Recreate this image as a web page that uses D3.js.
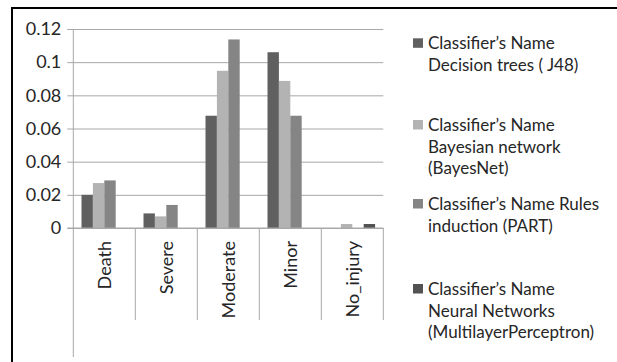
<!DOCTYPE html>
<html>
<head>
<meta charset="utf-8">
<script src="https://cdn.jsdelivr.net/npm/d3@7"></script>
<style>
  html, body { margin: 0; padding: 0; background: #fff; }
  svg { display: block; }
  text { font-family: Lato, "Open Sans", sans-serif; fill: #262626; }
</style>
</head>
<body>
<svg id="chart" width="617" height="362"></svg>
<script>
// Injury severity classes
const categories = ["Death", "Severe", "Moderate", "Minor", "No_injury"];

// Per-classifier values for each class
const j48Values       = [0.020, 0.0088, 0.0677, 0.106, 0];
const bayesNetValues  = [0.0271, 0.0070, 0.0948, 0.0887, 0.0024];
const partValues      = [0.0287, 0.0139, 0.1137, 0.0677, 0];
const mlpValues       = [0, 0, 0, 0, 0.0024];

// Legend text, one array of lines per classifier
const legendLines = [
  ["Classifier\u2019s Name", "Decision trees ( J48)"],
  ["Classifier\u2019s Name", "Bayesian network", "(BayesNet)"],
  ["Classifier\u2019s Name Rules", "induction (PART)"],
  ["Classifier\u2019s Name", "Neural Networks", "(MultilayerPerceptron)"]
];

const yTicks = [0, 0.02, 0.04, 0.06, 0.08, 0.1, 0.12];

const seriesValues = [j48Values, bayesNetValues, partValues, mlpValues];
const seriesColors = ["#606060", "#b3b3b3", "#858585", "#525252"];
const seriesKeys = d3.range(seriesValues.length);

const svg = d3.select("#chart");

// Outer frame
svg.append("rect")
  .attr("x", 12).attr("y", 8)
  .attr("width", 640).attr("height", 400)
  .attr("fill", "none").attr("stroke", "#000").attr("stroke-width", 2);

const plot = { left: 73.3, right: 383.3, top: 29, bottom: 228 };
const gridColor = "#a8a8a8";

const y = d3.scaleLinear().domain([0, 0.12]).range([plot.bottom, plot.top]);
const x0 = d3.scaleBand().domain(categories).range([plot.left, plot.right]).padding(0);
const x1 = d3.scaleBand().domain(seriesKeys)
  .range([0, x0.bandwidth()]).paddingInner(0).paddingOuter(0.72);

// Horizontal gridlines, with short ticks left of the axis
const gridG = svg.append("g")
  .attr("transform", `translate(${plot.left - 6},0)`)
  .call(d3.axisLeft(y).tickValues(yTicks)
    .tickSize(-(plot.right - plot.left) - 6)
    .tickFormat(d => String(+d.toFixed(2))));
gridG.select(".domain").remove();
gridG.selectAll(".tick line").attr("stroke", gridColor).attr("stroke-width", 1);
gridG.selectAll(".tick text")
  .attr("x", -6)
  .style("font-size", "18px")
  .style("font-family", "Lato, 'Open Sans', sans-serif")
  .attr("fill", "#262626");

// Vertical axis line, running below the category labels
svg.append("line")
  .attr("x1", plot.left).attr("x2", plot.left)
  .attr("y1", plot.top).attr("y2", 357)
  .attr("stroke", gridColor).attr("stroke-width", 1);

// Category separators under the baseline
const boundaries = categories.map(c => x0(c) + x0.bandwidth());
svg.append("g").selectAll("line")
  .data(boundaries)
  .join("line")
  .attr("x1", d => d).attr("x2", d => d)
  .attr("y1", plot.bottom).attr("y2", 320)
  .attr("stroke", gridColor).attr("stroke-width", 1);

// Bars
const groups = svg.append("g").selectAll("g")
  .data(categories)
  .join("g")
  .attr("transform", c => `translate(${x0(c)},0)`);

groups.selectAll("rect")
  .data((c, i) => seriesKeys.map(k => ({ k, v: seriesValues[k][i] })))
  .join("rect")
  .attr("x", d => x1(d.k))
  .attr("width", x1.bandwidth())
  .attr("y", d => y(d.v))
  .attr("height", d => y(0) - y(d.v))
  .attr("fill", d => seriesColors[d.k]);

// Baseline redrawn over the bars
svg.append("line")
  .attr("x1", plot.left - 6).attr("x2", plot.right)
  .attr("y1", plot.bottom).attr("y2", plot.bottom)
  .attr("stroke", gridColor).attr("stroke-width", 1);

// Rotated category labels
svg.append("g").selectAll("text")
  .data(categories)
  .join("text")
  .attr("transform", c => `translate(${x0(c) + x0.bandwidth() / 2 + 6.5},${plot.bottom + 13}) rotate(-90)`)
  .attr("text-anchor", "end")
  .style("font-size", "18px")
  .text(c => c);

// Legend
const legendFirstBaseline = [49.3, 131, 210, 295];
const lineStep = 21.6;
const legend = svg.append("g");
legendLines.forEach((lines, k) => {
  const base = legendFirstBaseline[k];
  legend.append("rect")
    .attr("x", 413).attr("y", base - 11)
    .attr("width", 10).attr("height", 9.5)
    .attr("fill", seriesColors[k]);
  legend.append("text")
    .style("font-size", "17px")
    .selectAll("tspan")
    .data(lines)
    .join("tspan")
    .attr("x", 428)
    .attr("y", (d, i) => base + i * lineStep)
    .text(d => d);
});
</script>
</body>
</html>
